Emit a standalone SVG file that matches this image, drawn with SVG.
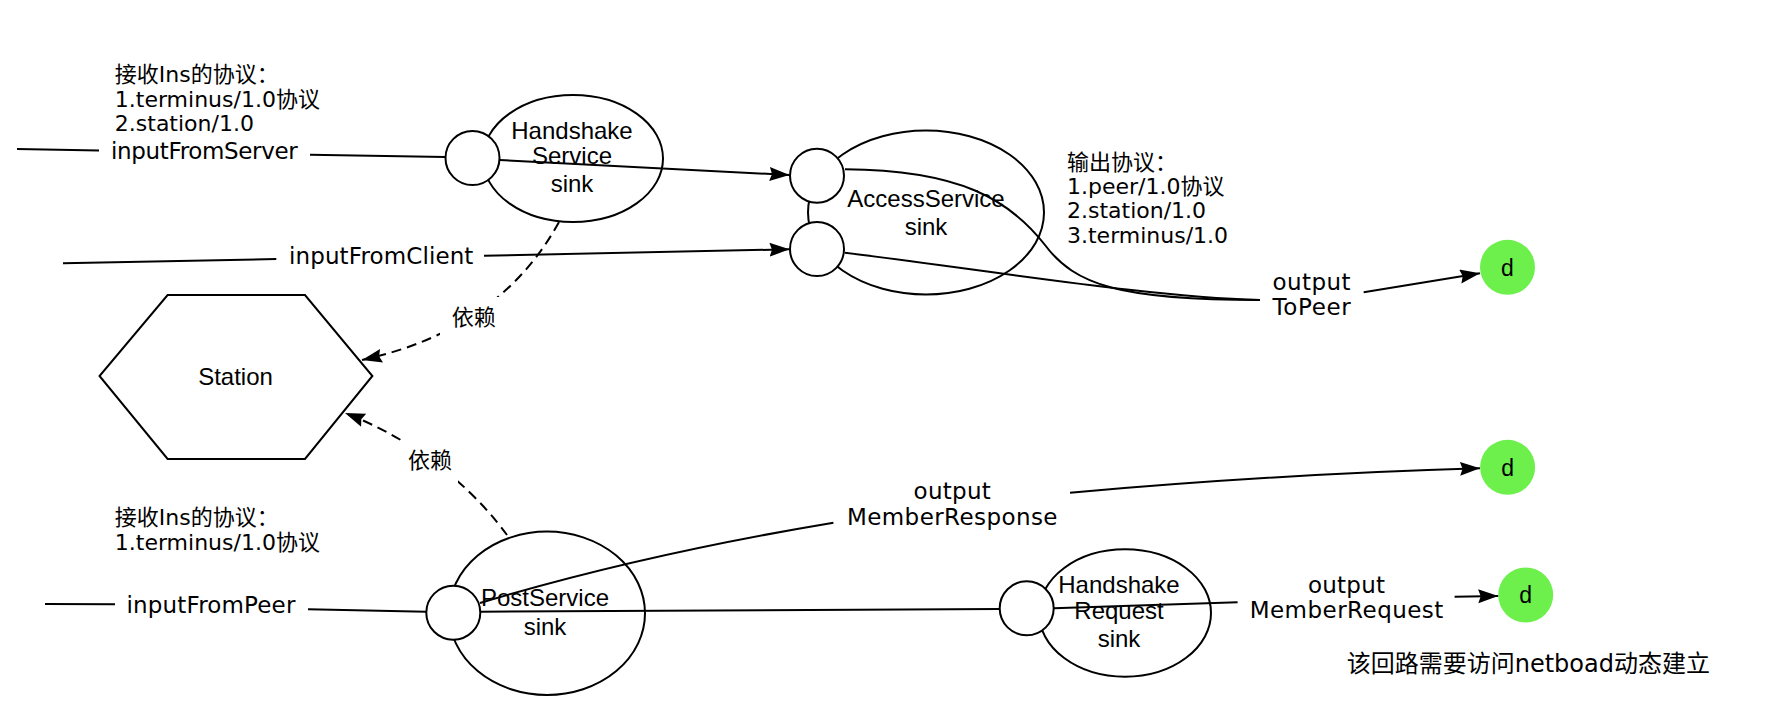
<svg xmlns="http://www.w3.org/2000/svg" width="1780" height="702" viewBox="0 0 1780 702">
<style>
  .bg { fill: #ffffff; }
  .shape { fill: #ffffff; stroke: #000000; stroke-width: 2; }
  .green { fill: #6DF04C; stroke: none; }
  .line { fill: none; stroke: #000000; stroke-width: 2; }
  .dash { fill: none; stroke: #000000; stroke-width: 2; stroke-dasharray: 10 6; }
  .txt { font-family: "DejaVu Sans", "Noto Sans CJK SC", sans-serif; font-size: 22px; fill: #000000; }
  .edge { font-family: "DejaVu Sans", "Noto Sans CJK SC", sans-serif; font-size: 23px; fill: #000000; text-anchor: middle; }
  .cjk { font-family: "Noto Sans CJK SC", sans-serif; font-size: 22px; fill: #000000; text-anchor: middle; }
  .node { font-family: "Liberation Sans", "Noto Sans CJK SC", sans-serif; font-size: 24px; fill: #000000; text-anchor: middle; }
  .d { font-family: "Liberation Sans", sans-serif; font-size: 23px; fill: #000000; text-anchor: middle; }
  .lblbg { fill: #ffffff; stroke: none; }
</style>
<defs>
  <marker id="arrow" markerWidth="22" markerHeight="16" refX="20" refY="7" orient="auto" markerUnits="userSpaceOnUse">
    <path d="M0,0 L20,7 L0,14 L2.5,7 z" fill="#000000"/>
  </marker>
</defs>
<rect class="bg" x="0" y="0" width="1780" height="702"/>

<g id="nodes">
  <g id="handshake-service">
    <ellipse class="shape" cx="573" cy="158.5" rx="90" ry="63.5"/>
    <circle class="shape" cx="472.5" cy="158" r="27"/>
    <text class="node" x="572" y="138.5">Handshake</text>
    <text class="node" x="572" y="163.5">Service</text>
    <text class="node" x="572" y="192">sink</text>
  </g>
  <g id="access-service">
    <ellipse class="shape" cx="926" cy="212.5" rx="118" ry="82"/>
    <circle class="shape" cx="817" cy="175.7" r="27"/>
    <circle class="shape" cx="817" cy="249" r="27"/>
    <text class="node" x="926" y="206.7">AccessService</text>
    <text class="node" x="926" y="234.5">sink</text>
  </g>
  <g id="station">
    <polygon class="shape" points="167.6,295 305,295 372.4,376 305,459 167.6,459 99.5,376"/>
    <text class="node" x="235.5" y="385">Station</text>
  </g>
  <g id="post-service">
    <ellipse class="shape" cx="547" cy="613.3" rx="98" ry="81.7"/>
    <circle class="shape" cx="453.3" cy="612.7" r="27"/>
    <text class="node" x="545" y="606">PostService</text>
    <text class="node" x="545" y="635">sink</text>
  </g>
  <g id="handshake-request">
    <ellipse class="shape" cx="1125" cy="613" rx="86" ry="63.7"/>
    <circle class="shape" cx="1026.7" cy="608.3" r="27"/>
    <text class="node" x="1119" y="593.3">Handshake</text>
    <text class="node" x="1119" y="619.3">Request</text>
    <text class="node" x="1119" y="646.7">sink</text>
  </g>
  <g id="d-topeer">
    <circle class="green" cx="1507.5" cy="267.3" r="27.5"/>
    <text class="d" x="1507.5" y="275.5">d</text>
  </g>
  <g id="d-memberresponse">
    <circle class="green" cx="1507.6" cy="467.3" r="27.5"/>
    <text class="d" x="1507.6" y="475.5">d</text>
  </g>
  <g id="d-memberrequest">
    <circle class="green" cx="1525.7" cy="595" r="27.5"/>
    <text class="d" x="1525.7" y="603.2">d</text>
  </g>
</g>

<g id="connectors">
  <path class="line" d="M17,149 L99,150.5 M310,154.7 L445.5,157"/>
  <path class="line" d="M499.5,160 L789.5,175" marker-end="url(#arrow)"/>
  <path class="line" d="M63,263.3 L276.3,259 M484,255.7 L789.5,249.3" marker-end="url(#arrow)"/>
  <path class="line" d="M845,169.3 C960,170 1010,200 1045,245 C1075,285 1120,300 1260,300"/>
  <path class="line" d="M845,252.7 C1000,272 1150,297 1260,300"/>
  <path class="line" d="M1363.7,292.3 L1480,273.3" marker-end="url(#arrow)"/>
  <path class="dash" d="M559,222 Q500,330 362,360" marker-end="url(#arrow)"/>
  <path class="dash" d="M507,535 C485,505 435,448 345,413" marker-end="url(#arrow)"/>
  <path class="line" d="M45,604 L115,604.3 M308,609.3 L426.3,611.7"/>
  <path class="line" d="M480,603 Q640,555 833.4,522.7"/>
  <path class="line" d="M1070,492.7 Q1280,474 1480,468.3" marker-end="url(#arrow)"/>
  <path class="line" d="M480.3,611.7 L999.7,609"/>
  <path class="line" d="M1053.7,608.3 L1237.6,602.3"/>
  <path class="line" d="M1454.6,596.7 L1498.2,596" marker-end="url(#arrow)"/>

  <text class="edge" x="204.4" y="159.3" textLength="186.7">inputFromServer</text>
  <text class="edge" x="381.2" y="264" textLength="184.4">inputFromClient</text>
  <text class="edge" x="210.9" y="613.3" textLength="169">inputFromPeer</text>
  <text class="edge" x="1311.6" y="290" textLength="78">output</text>
  <text class="edge" x="1311.6" y="315" textLength="78">ToPeer</text>
  <text class="edge" x="952.2" y="499.3" textLength="77.2">output</text>
  <text class="edge" x="952.2" y="525" textLength="210.5">MemberResponse</text>
  <text class="edge" x="1346.5" y="593.3" textLength="77.1">output</text>
  <text class="edge" x="1346.5" y="618.3" textLength="193.7">MemberRequest</text>
  <rect class="lblbg" x="440" y="297" width="66" height="38"/>
  <text class="cjk" x="473.8" y="325">依赖</text>
  <rect class="lblbg" x="398" y="441" width="60" height="42"/>
  <text class="cjk" x="430" y="468.4">依赖</text>
</g>

<g id="note-input-server">
  <text class="txt" x="114.8" y="82">接收Ins的协议：</text>
  <text class="txt" x="114.8" y="106.5">1.terminus/1.0协议</text>
  <text class="txt" x="114.8" y="131">2.station/1.0</text>
</g>
<g id="note-output">
  <text class="txt" x="1067" y="169.5">输出协议：</text>
  <text class="txt" x="1067" y="194">1.peer/1.0协议</text>
  <text class="txt" x="1067" y="218.3">2.station/1.0</text>
  <text class="txt" x="1067" y="242.5">3.terminus/1.0</text>
</g>
<g id="note-input-peer">
  <text class="txt" x="114.8" y="525">接收Ins的协议：</text>
  <text class="txt" x="114.8" y="550">1.terminus/1.0协议</text>
</g>
<g id="note-loop">
  <text class="txt" x="1346.7" y="671.5" style="font-size:24px">该回路需要访问netboad动态建立</text>
</g>
</svg>
